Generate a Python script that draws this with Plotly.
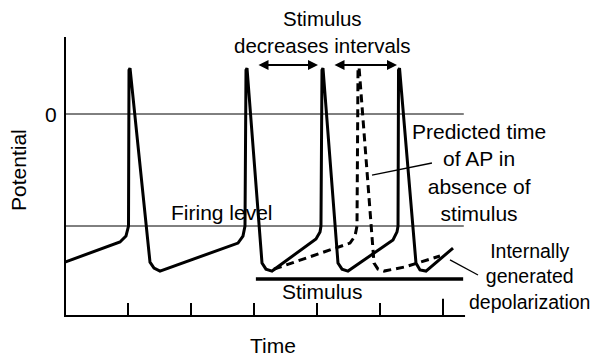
import plotly.graph_objects as go

# ---- data (time in tick units, potential in mV-like units) ----
solid_t = [0.000, 0.873, 0.968, 1.008, 1.016, 1.032, 1.349, 1.413, 1.508,
           2.746, 2.825, 2.857, 2.873, 2.889, 3.127, 3.190, 3.286,
           3.984, 4.048, 4.063, 4.079, 4.095, 4.333, 4.397, 4.492,
           5.206, 5.270, 5.286, 5.294, 5.310, 5.571, 5.635, 5.730, 6.159]
solid_v = [-52.9, -45.7, -43.6, -40.0, 15.7, 16.4, -52.9, -55.0, -56.1,
           -46.1, -43.6, -40.0, 15.7, 16.4, -53.2, -55.4, -56.1,
           -44.6, -42.1, -40.0, 15.7, 16.4, -53.2, -55.4, -56.1,
           -45.0, -42.1, -40.0, 15.7, 16.4, -53.2, -55.7, -56.1, -47.9]

pred_t = [3.317, 4.524, 4.603, 4.635, 4.651, 4.667, 4.905, 4.968, 5.063, 5.397, 5.952]
pred_v = [-55.4, -46.1, -43.6, -40.0, 15.7, 16.8, -53.2, -55.4, -56.1, -54.6, -50.7]

zero_level = 0.0
firing_level = -40.0
ref_line_end = 6.33

stim_t = [3.03, 6.32]
stim_v = -58.9

axis_bottom = -72.1
axis_top = 27.5
axis_right = 6.35
tick_t = [1, 2, 3, 4, 5, 6]
tick_top = [-67.5, -67.5, -67.5, -67.5, -67.5, -66.0]

interval_arrows = [(3.048, 4.016), (4.254, 5.270)]
arrow_v = 17.5

FONT = "Liberation Sans, Arial, Helvetica, sans-serif"
BLACK = "#000000"

fig = go.Figure()

# reference lines (0 and firing level)
for lvl in (zero_level, firing_level):
    fig.add_trace(go.Scatter(x=[0, ref_line_end], y=[lvl, lvl], mode="lines",
                             line=dict(color=BLACK, width=1), hoverinfo="skip"))

# axes
fig.add_trace(go.Scatter(x=[0, 0, axis_right], y=[axis_top, axis_bottom, axis_bottom],
                         mode="lines", line=dict(color=BLACK, width=2), hoverinfo="skip"))
# ticks
for tt, top in zip(tick_t, tick_top):
    fig.add_trace(go.Scatter(x=[tt, tt], y=[axis_bottom, top], mode="lines",
                             line=dict(color=BLACK, width=2), hoverinfo="skip"))

# stimulus bar
fig.add_trace(go.Scatter(x=stim_t, y=[stim_v, stim_v], mode="lines",
                         line=dict(color=BLACK, width=3.5), hoverinfo="skip"))

# predicted (dashed) trajectory
fig.add_trace(go.Scatter(x=pred_t, y=pred_v, mode="lines",
                         line=dict(color=BLACK, width=3, dash="8px,5px"), hoverinfo="skip"))

# actual membrane potential
fig.add_trace(go.Scatter(x=solid_t, y=solid_v, mode="lines",
                         line=dict(color=BLACK, width=3), hoverinfo="skip"))

# leader lines
fig.add_trace(go.Scatter(x=[5.825, 4.873], y=[-17.5, -21.8], mode="lines",
                         line=dict(color=BLACK, width=1.3), hoverinfo="skip"))
fig.add_trace(go.Scatter(x=[6.111, 6.556], y=[-52.1, -57.5], mode="lines",
                         line=dict(color=BLACK, width=1.3), hoverinfo="skip"))

annotations = []
for a, b in interval_arrows:
    annotations.append(dict(x=b, y=arrow_v, ax=a, ay=arrow_v, xref="x", yref="y",
                            axref="x", ayref="y", showarrow=True, arrowhead=2,
                            arrowside="end+start", arrowsize=1, arrowwidth=2,
                            arrowcolor=BLACK, text=""))

def txt(x, y, s, size=21, **kw):
    d = dict(x=x, y=y, xref="x", yref="y", text=s, showarrow=False,
             font=dict(family=FONT, size=size, color=BLACK), align="center")
    d.update(kw)
    annotations.append(d)

txt(4.095, 29.3, "Stimulus<br>decreases intervals", size=20.5)
txt(2.492, -35.0, "Firing level")
txt(6.571, -20.9, "Predicted time<br>of AP in<br>absence of<br>stimulus")
txt(7.38, -58.2, "Internally<br>generated<br>depolarization", size=19.5)
txt(-0.222, 0.0, "0")
txt(-0.746, -20.0, "Potential", textangle=-90)
txt(3.302, -82.5, "Time")
txt(4.095, -63.5, "Stimulus")

# page body has an 8px margin: size the figure to fit the 599x359 window
fig.update_layout(
    width=591, height=351,
    margin=dict(l=0, r=0, t=0, b=0),
    paper_bgcolor="white", plot_bgcolor="white",
    showlegend=False,
    xaxis=dict(range=[-0.90476, 8.4762], visible=False, fixedrange=True),
    yaxis=dict(range=[-87.5, 37.857], visible=False, fixedrange=True),
    annotations=annotations,
)

fig.write_html("out.html")
